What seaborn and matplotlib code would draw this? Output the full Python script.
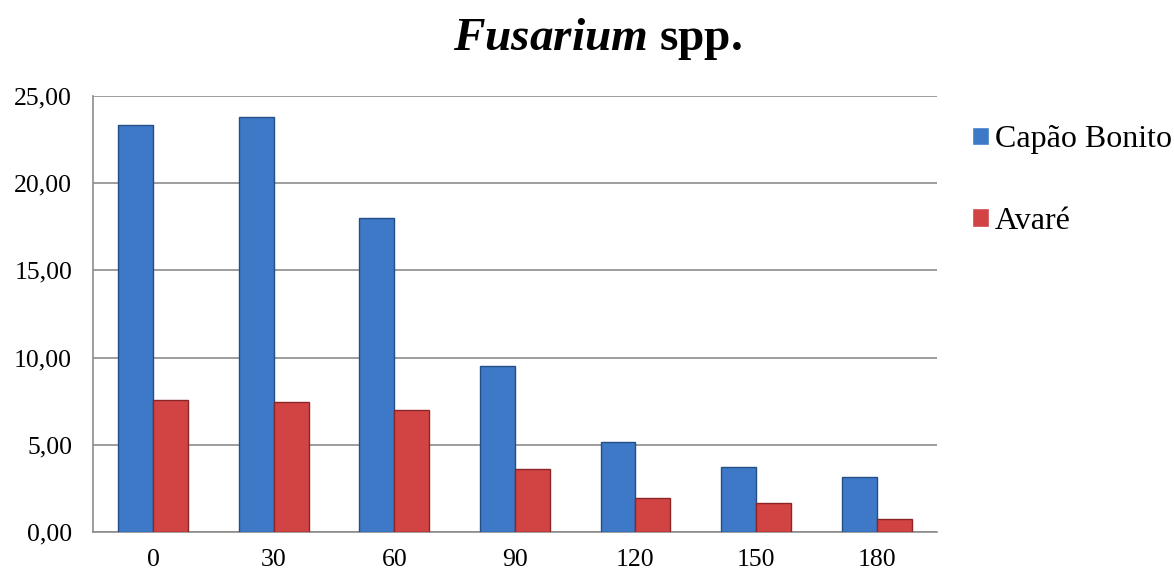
import matplotlib
matplotlib.use("Agg")
import matplotlib.pyplot as plt
import seaborn as sns
import pandas as pd
from matplotlib.ticker import FuncFormatter

days = ["0", "30", "60", "90", "120", "150", "180"]
capao_bonito = [23.35, 23.8, 18.0, 9.5, 5.15, 3.75, 3.15]
avare = [7.55, 7.45, 7.0, 3.6, 1.95, 1.65, 0.75]
series_names = ["Capão Bonito", "Avaré"]
yticks = [0, 5, 10, 15, 20, 25]

df = pd.DataFrame({
    "dia": days * 2,
    "valor": capao_bonito + avare,
    "local": [series_names[0]] * len(days) + [series_names[1]] * len(days),
})

sns.set_theme(style="white")
plt.rcParams["font.family"] = ["Liberation Serif", "DejaVu Serif"]
plt.rcParams["text.color"] = "black"
plt.rcParams["xtick.color"] = "black"
plt.rcParams["ytick.color"] = "black"
plt.rcParams["mathtext.fontset"] = "custom"
plt.rcParams["mathtext.rm"] = "Liberation Serif"
plt.rcParams["mathtext.bfit"] = "Liberation Serif:italic:bold"
plt.rcParams["mathtext.it"] = "Liberation Serif:italic"
plt.rcParams["mathtext.bf"] = "Liberation Serif:bold"

fig = plt.figure(figsize=(11.74, 5.75), dpi=100)
ax = fig.add_axes([0.0792, 0.0748, 0.7188, 0.7582])

palette = {"Capão Bonito": "#3d79c6", "Avaré": "#d24343"}
sns.barplot(data=df, x="dia", y="valor", hue="local", order=days,
            hue_order=series_names, palette=palette, width=0.58,
            ax=ax, saturation=1, legend=True)

edges = {"Capão Bonito": "#244e86", "Avaré": "#8c2626"}
for cont, name in zip(ax.containers, series_names):
    for p in cont.patches:
        p.set_edgecolor(edges[name])
        p.set_linewidth(1.0)
        p.set_zorder(3)

ax.set_ylim(0, 25)
ax.set_yticks(yticks)
ax.yaxis.set_major_formatter(FuncFormatter(lambda v, _: f"{v:.2f}".replace(".", ",")))
ax.set_xlim(-0.5, len(days) - 0.5)
ax.set_xlabel("")
ax.set_ylabel("")
ax.tick_params(axis="both", labelsize=18.5, colors="black", length=0)
ax.tick_params(axis="y", pad=15)
ax.tick_params(axis="x", pad=12)
ax.grid(axis="y", color="#8c8c8c", linewidth=1.2, zorder=0)
ax.set_axisbelow(True)
for s in ["top", "right"]:
    ax.spines[s].set_visible(False)
for s in ["left", "bottom"]:
    ax.spines[s].set_color("#8c8c8c")
    ax.spines[s].set_linewidth(1.2)

handles, labels = ax.get_legend_handles_labels()
ax.legend(handles, labels, loc="upper left", bbox_to_anchor=(0.828, 0.782),
          bbox_transform=fig.transFigure, frameon=False, fontsize=23,
          handlelength=0.53, handleheight=0.53, handletextpad=0.19,
          labelspacing=1.64, borderpad=0, borderaxespad=0)

fig.text(0.5085, 1 - 50 / 575, r"$\mathbfit{Fusarium}$ spp.", ha="center",
         va="baseline", fontsize=34, fontweight="bold")

fig.savefig("out.png", dpi=100)
